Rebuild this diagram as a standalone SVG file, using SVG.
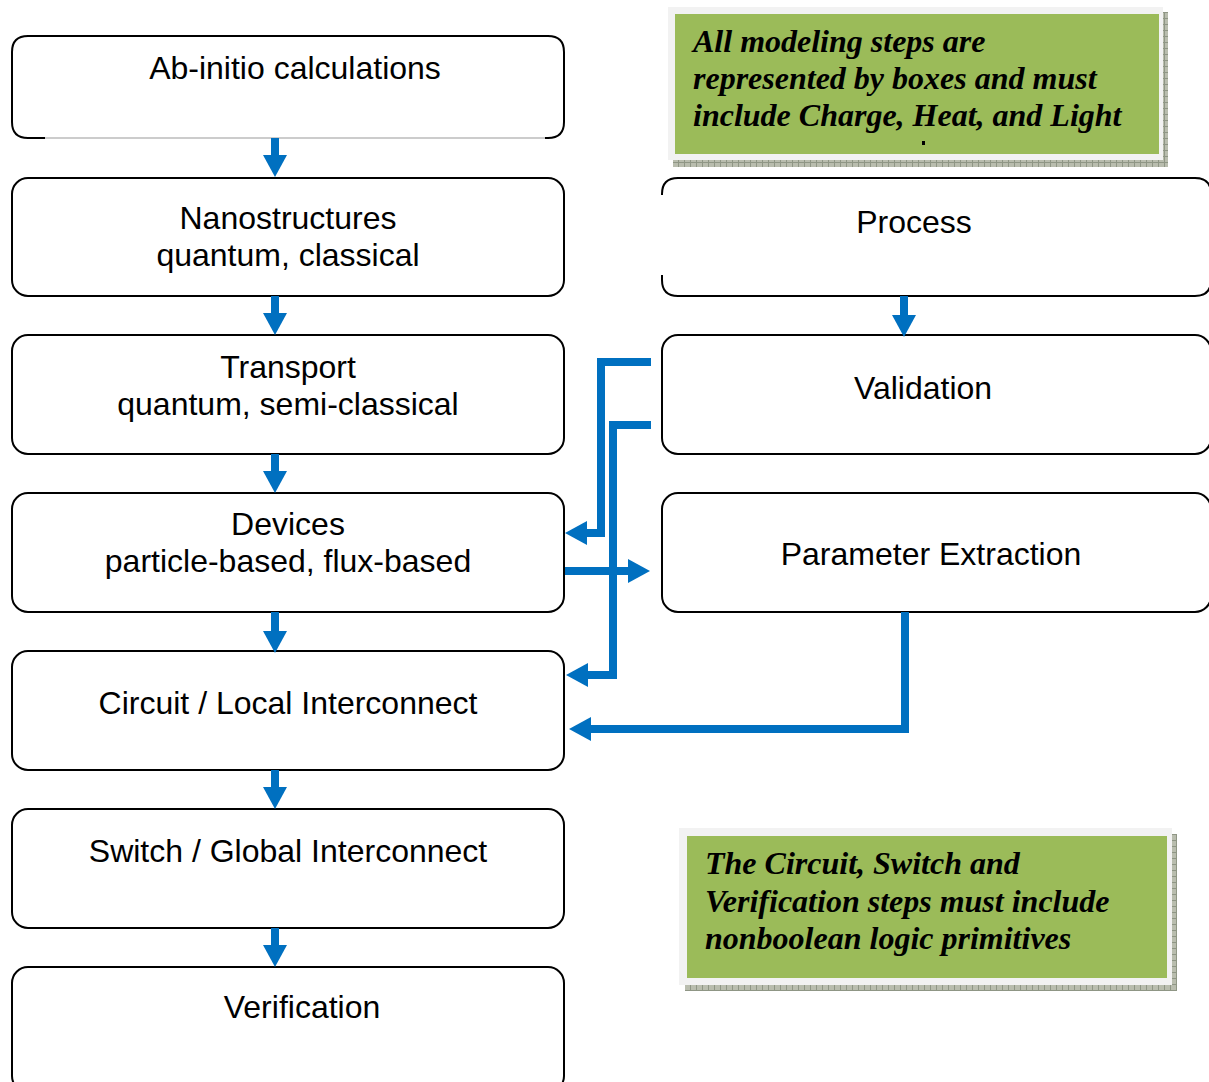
<svg xmlns="http://www.w3.org/2000/svg" width="1209" height="1082" viewBox="0 0 1209 1082">
<style>
.box{fill:#fff;stroke:#000;stroke-width:2}
.lbl{font-family:"Liberation Sans",Arial,sans-serif;font-size:32px;fill:#000;text-anchor:middle}
.note{font-family:"Liberation Serif","Times New Roman",serif;font-size:32px;font-weight:bold;font-style:italic;fill:#000}
.con{fill:none;stroke:#0070C0;stroke-width:8;stroke-linejoin:miter}
.frame{fill:#f2f2f2}
.green{fill:#9BBB59}
</style>
<defs>
<marker id="ah" markerUnits="userSpaceOnUse" markerWidth="22" markerHeight="24" refX="12" refY="12" orient="auto" viewBox="0 0 22 24">
<path d="M0,0 L22,12 L0,24 z" fill="#0070C0"/>
</marker>
<pattern id="shad" width="6" height="6" patternUnits="userSpaceOnUse">
<rect width="6" height="6" fill="#b9bdae"/>
<path d="M0,0.5 H6 M0.5,0 V6" stroke="#8f9685" stroke-width="1"/>
</pattern>
</defs>
<rect width="1209" height="1082" fill="#fff"/>

<g id="note1">
<rect x="673" y="12" width="495" height="155" fill="url(#shad)"/>
<rect class="frame" x="668" y="7" width="495" height="153"/>
<rect class="green" x="675" y="14" width="484" height="140"/>
<text class="note" x="693" y="52">All modeling steps are</text>
<text class="note" x="693" y="89">represented by boxes and must</text>
<text class="note" x="693" y="126">include Charge, Heat, and Light</text>
<rect x="922" y="141" width="3" height="4" fill="#000"/>
</g>

<g id="note2">
<rect x="685" y="834" width="492" height="157" fill="url(#shad)"/>
<rect class="frame" x="679" y="828" width="493" height="157"/>
<rect class="green" x="687" y="836" width="480" height="142"/>
<text class="note" x="705" y="874">The Circuit, Switch and</text>
<text class="note" x="705" y="912">Verification steps must include</text>
<text class="note" x="705" y="949">nonboolean logic primitives</text>
</g>

<g id="ab-initio">
<path d="M45,138 H28 Q12,138 12,122 V52 Q12,36 28,36 H548 Q564,36 564,52 V122 Q564,138 548,138 H545" fill="#fff" stroke="#000" stroke-width="2"/>
<line x1="45" y1="138" x2="545" y2="138" stroke="#bbb" stroke-width="1.5"/>
<text class="lbl" x="295" y="79">Ab-initio calculations</text>
</g>

<g id="nanostructures">
<rect class="box" x="12" y="178" width="552" height="118" rx="16"/>
<text class="lbl" x="288" y="229">Nanostructures</text>
<text class="lbl" x="288" y="266">quantum, classical</text>
</g>

<g id="transport">
<rect class="box" x="12" y="335" width="552" height="119" rx="16"/>
<text class="lbl" x="288" y="378">Transport</text>
<text class="lbl" x="288" y="415">quantum, semi-classical</text>
</g>

<g id="devices">
<rect class="box" x="12" y="493" width="552" height="119" rx="16"/>
<text class="lbl" x="288" y="535">Devices</text>
<text class="lbl" x="288" y="572">particle-based, flux-based</text>
</g>

<g id="circuit">
<rect class="box" x="12" y="651" width="552" height="119" rx="16"/>
<text class="lbl" x="288" y="714">Circuit / Local Interconnect</text>
</g>

<g id="switch">
<rect class="box" x="12" y="809" width="552" height="119" rx="16"/>
<text class="lbl" x="288" y="862">Switch / Global Interconnect</text>
</g>

<g id="verification">
<rect class="box" x="12" y="967" width="552" height="125" rx="16"/>
<text class="lbl" x="302" y="1018">Verification</text>
</g>

<g id="process">
<path d="M662,195 V194 Q662,178 678,178 H1195 Q1211,178 1211,194 V280 Q1211,296 1195,296 H678 Q662,296 662,280 V275" fill="#fff" stroke="#000" stroke-width="2"/>
<text class="lbl" x="914" y="233">Process</text>
</g>

<g id="validation">
<rect class="box" x="662" y="335" width="549" height="119" rx="16"/>
<text class="lbl" x="923" y="399">Validation</text>
</g>

<g id="parameter-extraction">
<rect class="box" x="662" y="493" width="549" height="119" rx="16"/>
<text class="lbl" x="931" y="565">Parameter Extraction</text>
</g>

<g id="connectors">
<line class="con" x1="275" y1="138" x2="275" y2="167" marker-end="url(#ah)"/>
<line class="con" x1="275" y1="296" x2="275" y2="325" marker-end="url(#ah)"/>
<line class="con" x1="275" y1="454" x2="275" y2="483" marker-end="url(#ah)"/>
<line class="con" x1="275" y1="612" x2="275" y2="643" marker-end="url(#ah)"/>
<line class="con" x1="275" y1="770" x2="275" y2="799" marker-end="url(#ah)"/>
<line class="con" x1="275" y1="928" x2="275" y2="957" marker-end="url(#ah)"/>
<line class="con" x1="904" y1="296" x2="904" y2="327" marker-end="url(#ah)"/>
<polyline class="con" points="651,362 601,362 601,533 575,533" marker-end="url(#ah)"/>
<polyline class="con" points="651,425 613,425 613,675 576,675" marker-end="url(#ah)"/>
<line class="con" x1="565" y1="571" x2="640" y2="571" marker-end="url(#ah)"/>
<polyline class="con" points="905,612 905,729 579,729" marker-end="url(#ah)"/>
</g>
</svg>
